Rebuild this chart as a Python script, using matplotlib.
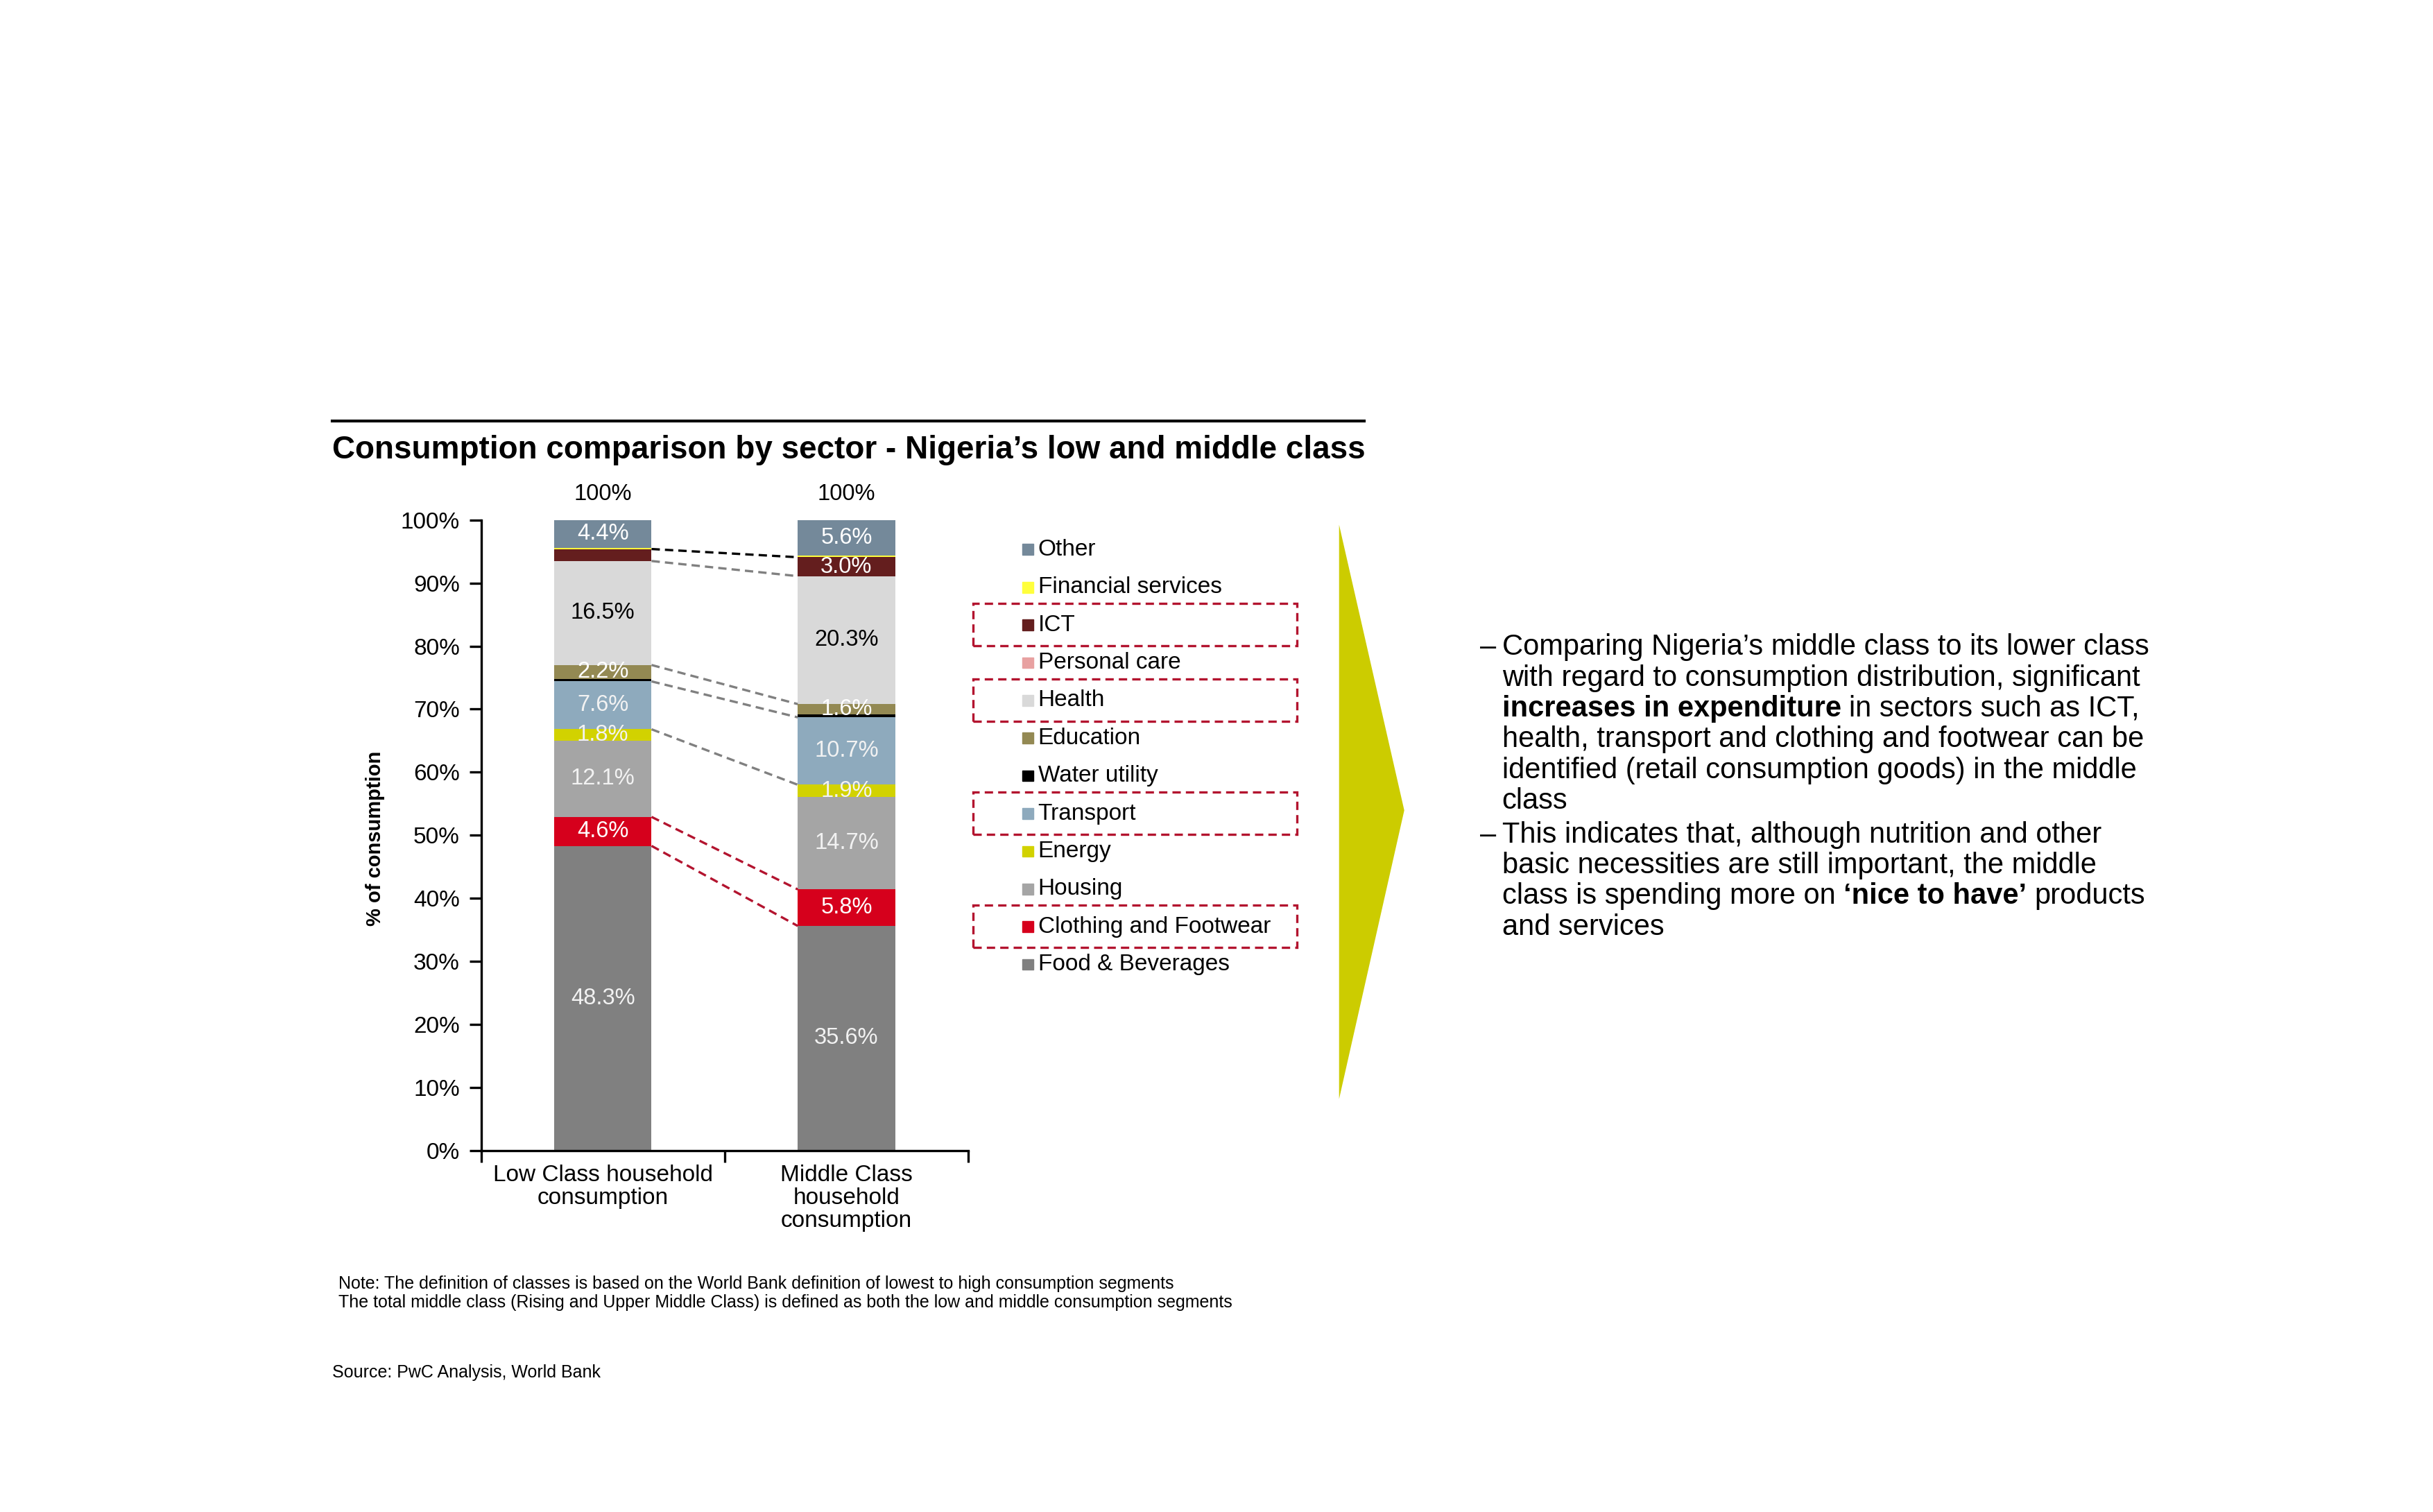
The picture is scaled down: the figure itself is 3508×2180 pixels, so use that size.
import numpy as np
import matplotlib.pyplot as plt
from matplotlib.patches import Rectangle, Polygon

plt.rcParams['font.family'] = ['Liberation Sans', 'DejaVu Sans']

# stack order, bottom -> top
sectors = ["Food & Beverages", "Clothing and Footwear", "Housing", "Energy",
           "Transport", "Water utility", "Education", "Health",
           "Personal care", "ICT", "Financial services", "Other"]
low = [48.3, 4.6, 12.1, 1.8, 7.6, 0.4, 2.2, 16.5, 0.0, 1.9, 0.2, 4.4]
mid = [35.6, 5.8, 14.7, 1.9, 10.7, 0.5, 1.6, 20.3, 0.0, 3.0, 0.3, 5.6]
low_labels = ["48.3%", "4.6%", "12.1%", "1.8%", "7.6%", "", "2.2%", "16.5%", "", "", "", "4.4%"]
mid_labels = ["35.6%", "5.8%", "14.7%", "1.9%", "10.7%", "", "1.6%", "20.3%", "", "3.0%", "", "5.6%"]
colors = ["#808080", "#d6001c", "#a5a5a5", "#d2d200", "#8eaabd", "#000000",
          "#938953", "#d9d9d9", "#e8a1a1", "#641e1e", "#ffff3c", "#74899a"]
label_cols = ["#f2f2f2", "#ffffff", "#f2f2f2", "#f2f2f2", "#f2f2f2", "#ffffff",
              "#ffffff", "#000000", "#000000", "#ffffff", "#000000", "#ffffff"]
categories = ["Low Class household\nconsumption", "Middle Class\nhousehold\nconsumption"]
totals = ["100%", "100%"]
highlighted = ["ICT", "Health", "Transport", "Clothing and Footwear"]
# connectors drawn at the top edge of these sectors
connectors = [("ICT", "#000000"), ("Health", "#808080"), ("Education", "#808080"),
              ("Transport", "#808080"), ("Energy", "#808080"),
              ("Clothing and Footwear", "#b3142f"), ("Food & Beverages", "#b3142f")]

W, H = 1568, 974
def fx(x):
    return x / W
def fy(y):
    return 1 - y / H

fig = plt.figure(figsize=(35.08, 21.80), dpi=100)
ax = fig.add_axes([fx(310), fy(741), fx(624) - fx(310), fy(335) - fy(741)])

xs = np.arange(2)
bw = 0.4
data = np.array([low, mid])
bottoms = np.zeros(2)
tops = {}
for i, s in enumerate(sectors):
    v = data[:, i]
    ax.bar(xs, v, bottom=bottoms, width=bw, color=colors[i], linewidth=0)
    for j, labs in enumerate([low_labels, mid_labels]):
        if labs[i]:
            ax.text(xs[j], bottoms[j] + v[j] / 2, labs[i], ha='center', va='center',
                    fontsize=23.5, color=label_cols[i])
    bottoms = bottoms + v
    tops[s] = bottoms.copy()

for s, c in connectors:
    ax.plot([xs[0] + bw / 2, xs[1] - bw / 2], tops[s], color=c, lw=2.4,
            linestyle=(0, (3.6, 2.2)), zorder=3)

for j in range(2):
    ax.text(xs[j], 104.1, totals[j], ha='center', va='center', fontsize=23.5)

ax.set_xlim(-0.5, 1.5)
ax.set_ylim(0, 100)
ax.set_yticks(np.arange(0, 101, 10))
ax.set_yticklabels([f"{t}%" for t in range(0, 101, 10)], fontsize=24)
ax.set_xticks(xs)
ax.set_xticklabels(categories, fontsize=24, linespacing=1.08)
ax.set_xticks([-0.5, 0.5, 1.5], minor=True)
ax.tick_params(axis='x', which='major', length=0, pad=15)
ax.tick_params(axis='x', which='minor', length=12, width=2.4, direction='out')
ax.tick_params(axis='y', length=12, width=2.4, pad=10)
for sp in ['top', 'right']:
    ax.spines[sp].set_visible(False)
for sp in ['left', 'bottom']:
    ax.spines[sp].set_linewidth(2.4)

fig.text(fx(242), fy(540), "% of consumption", rotation=90, ha='center', va='center',
         fontsize=21, fontweight='bold')

# title + rule
fig.add_artist(plt.Line2D([fx(214), fx(879)], [fy(271), fy(271)], color='black', lw=3))
fig.text(fx(214), fy(290), "Consumption comparison by sector - Nigeria\u2019s low and middle class",
         ha='left', va='center', fontsize=33, fontweight='bold')

# legend
for k, s in enumerate(reversed(sectors)):
    i = sectors.index(s)
    y = 354 + k * 24.3
    fig.add_artist(Rectangle((fx(659), fy(y + 3.5)), fx(7), fy(0) - fy(7),
                             transform=fig.transFigure, color=colors[i]))
    fig.text(fx(669), fy(y), s, ha='left', va='center', fontsize=24)
    if s in highlighted:
        fig.add_artist(Rectangle((fx(627), fy(y + 13.5)), fx(209), fy(0) - fy(27.5),
                                 transform=fig.transFigure, fill=False,
                                 edgecolor="#b3142f", lw=2.4, linestyle=(0, (3.6, 2.2))))

# arrow
fig.add_artist(Polygon([(fx(863), fy(338)), (fx(905), fy(522)), (fx(863), fy(708))],
                       closed=True, transform=fig.transFigure, color="#cccc00", lw=0))

# commentary with bold parts
r = fig.canvas.get_renderer()
TS = 30
def text_w(s, weight):
    t = fig.text(0, 0, s, fontsize=TS, fontweight=weight)
    w = t.get_window_extent(renderer=r).width
    t.remove()
    return w / fig.bbox.width
space_w = text_w("a a", 'normal') - text_w("aa", 'normal')

def rich_line(parts, x, y):
    for s, bold in parts:
        wgt = 'bold' if bold else 'normal'
        fig.text(x, y, s, fontsize=TS, fontweight=wgt, ha='left', va='center')
        x += text_w(s, wgt) + space_w

bullets = [
    [[("Comparing Nigeria\u2019s middle class to its lower class", False)],
     [("with regard to consumption distribution, significant", False)],
     [("increases in expenditure", True), ("in sectors such as ICT,", False)],
     [("health, transport and clothing and footwear can be", False)],
     [("identified (retail consumption goods) in the middle", False)],
     [("class", False)]],
    [[("This indicates that, although nutrition and other", False)],
     [("basic necessities are still important, the middle", False)],
     [("class is spending more on", False), ("\u2018nice to have\u2019", True), ("products", False)],
     [("and services", False)]],
]
y = 417
for b in bullets:
    fig.text(fx(954), fy(y), "\u2013", fontsize=TS, ha='left', va='center')
    for line in b:
        rich_line(line, fx(968), fy(y))
        y += 19.8
    y += 2

fig.text(fx(218), fy(827), "Note: The definition of classes is based on the World Bank definition of lowest to high consumption segments",
         fontsize=18, ha='left', va='center')
fig.text(fx(218), fy(839), "The total middle class (Rising and Upper Middle Class) is defined as both the low and middle consumption segments",
         fontsize=18, ha='left', va='center')
fig.text(fx(214), fy(884), "Source: PwC Analysis, World Bank", fontsize=18, ha='left', va='center')

fig.savefig("out.png", dpi=100)
